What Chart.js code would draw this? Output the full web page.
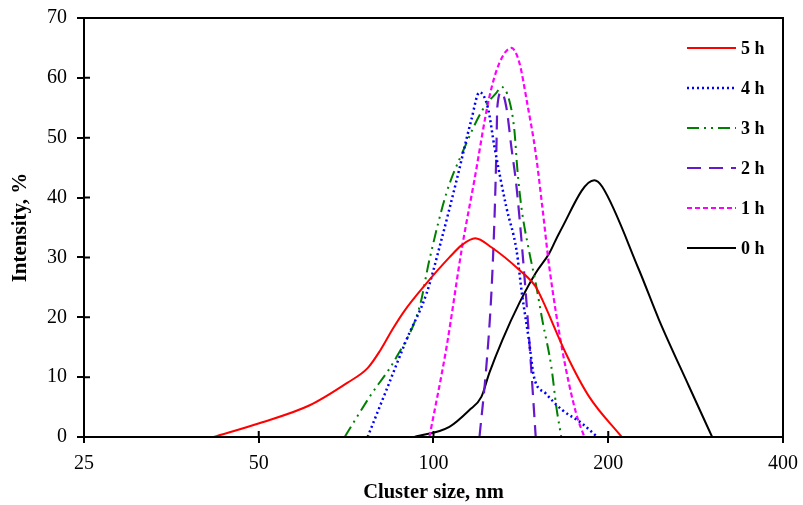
<!DOCTYPE html>
<html>
<head>
<meta charset="utf-8">
<script src="https://cdn.jsdelivr.net/npm/chart.js@4.4.1/dist/chart.umd.min.js"></script>
<style>
  body { margin: 0; background: #fff; }
  #wrap { width: 803px; height: 505px; }
</style>
</head>
<body>
<div id="wrap"><canvas id="dlsChart" width="803" height="505"></canvas></div>
<script>
// x ticks (log2 spaced) and y range
const xTicks = [25, 50, 100, 200, 400]
const yMax = 70

// values: cluster size (nm) / intensity (%)
const x5h = [41.8, 50.1, 61.2, 70.9, 77, 81, 85, 89, 97.3, 106.5, 112, 118, 125.8, 140.6, 150, 154, 169, 185.5, 211]
const y5h = [0, 2.3, 5.3, 9.0, 11.5, 14.5, 18, 21, 25.7, 30, 32.1, 33.2, 31.7, 27.9, 25.1, 22.9, 14, 6.7, 0]

const x4h = [77, 83, 89.8, 97.3, 102.4, 109.6, 116.2, 120, 124, 127.4, 133.5, 139, 142, 146, 149, 156, 166.7, 180, 191.5]
const y4h = [0, 7.9, 16.2, 24, 31.7, 42.9, 53, 57.6, 55.1, 48.4, 38.4, 31.2, 24, 16.2, 10, 7.3, 4.5, 2.3, 0]

const x3h = [70.3, 77.6, 86.4, 94.6, 98.4, 105.3, 112, 121.4, 128.3, 130.9, 135, 137.8, 139.5, 141.7, 146, 150, 154, 159.6, 162.8, 166]
const y3h = [0, 6.7, 13.4, 21.7, 29.6, 40.8, 47.4, 54.6, 57.5, 58.5, 56.3, 51.3, 44.6, 38.4, 31.2, 25.7, 19.5, 11.7, 5, 0]

const x2h = [120, 123.3, 125.8, 127.4, 128.3, 128.8, 130.9, 133.5, 136.2, 139, 144.5, 147.5, 150]
const y2h = [0, 11.7, 24, 36.8, 47.4, 55.1, 57.6, 55.1, 48.4, 41.8, 22.9, 10.7, 0]

const x1h = [98.4, 105.3, 112, 117.6, 124.8, 129.9, 136.2, 140.6, 145, 150, 154, 158.3, 166.7, 176, 181.9]
const y1h = [0, 15, 31.7, 42.9, 56.8, 62.5, 65, 62.5, 55.8, 47.4, 38.4, 28.4, 14.5, 4, 0]

const x0h = [92.7, 106.5, 115.3, 120.9, 124.8, 131.4, 140.6, 150, 158.3, 164.7, 189.3, 195.3, 226, 244.8, 275.7, 302]
const y0h = [0, 1.7, 4.5, 6.7, 10.7, 16.2, 22.4, 27.4, 30.7, 34.1, 42.9, 41.8, 27.9, 19.5, 8.4, 0]

function pts(xs, ys) {
    return xs.map(function(x, i) { return { x: x, y: ys[i] } })
}

function series(label, xs, ys, color, dash, width) {
    return {
        label: label,
        data: pts(xs, ys),
        borderColor: color,
        backgroundColor: color,
        borderDash: dash,
        borderWidth: width,
        pointRadius: 0,
        cubicInterpolationMode: "monotone",
        fill: false,
    }
}

const data = {
    datasets: [
        series("5 h", x5h, y5h, "#ff0000", [], 2),
        series("4 h", x4h, y4h, "#0000ff", [2, 3], 2.5),
        series("3 h", x3h, y3h, "#008000", [12, 5, 2, 5, 2, 5], 2),
        series("2 h", x2h, y2h, "#6619cc", [14, 8], 2.2),
        series("1 h", x1h, y1h, "#ff00ff", [5, 3], 2.2),
        series("0 h", x0h, y0h, "#000000", [], 2),
    ]
}

const serif = "'Liberation Serif', 'Times New Roman', serif"

// frame, inner tick marks and the legend box in the plot corner
const framePlugin = {
    id: "frame",
    afterDraw(chart) {
        const ctx = chart.ctx
        const a = chart.chartArea
        ctx.save()
        ctx.strokeStyle = "#000"
        ctx.lineWidth = 2
        ctx.setLineDash([])
        ctx.strokeRect(a.left, a.top, a.right - a.left, a.bottom - a.top)

        const xs = chart.scales.x
        const ys = chart.scales.y
        ctx.beginPath()
        xTicks.forEach(function(v) {
            const px = xs.getPixelForValue(v)
            ctx.moveTo(px, a.bottom)
            ctx.lineTo(px, a.bottom - 6)
        })
        for (let v = 0; v <= yMax; v += 10) {
            const py = ys.getPixelForValue(v)
            ctx.moveTo(a.left, py)
            ctx.lineTo(a.left + 6, py)
        }
        ctx.stroke()

        // legend
        ctx.font = "bold 18px " + serif
        ctx.textBaseline = "middle"
        ctx.fillStyle = "#000"
        chart.data.datasets.forEach(function(ds, i) {
            const y = a.top + 30 + i * 40
            ctx.strokeStyle = ds.borderColor
            ctx.lineWidth = ds.borderWidth
            ctx.setLineDash(ds.borderDash)
            ctx.beginPath()
            ctx.moveTo(687, y)
            ctx.lineTo(736, y)
            ctx.stroke()
            ctx.fillText(ds.label, 741, y + 1)
        })
        ctx.restore()
    }
}

const config = {
    type: "line",
    data,
    options: {
        responsive: false,
        animation: false,
        layout: { padding: { top: 18, right: 20, left: 0, bottom: 0 } },
        plugins: {
            legend: { display: false },
            tooltip: { enabled: false },
        },
        scales: {
            x: {
                type: "logarithmic",
                min: 25,
                max: 400,
                afterBuildTicks: function(scale) {
                    scale.ticks = xTicks.map(function(v) { return { value: v, major: true } })
                },
                afterFit: function(scale) {
                    scale.height = 68
                    scale.paddingLeft = 0
                    scale.paddingRight = 0
                },
                ticks: {
                    autoSkip: false,
                    maxRotation: 0,
                    color: "#000",
                    padding: 9,
                    font: { family: serif, size: 20 },
                    callback: function(v) { return String(v) }
                },
                grid: { drawOnChartArea: false, tickLength: 6, color: "#000", lineWidth: 2 },
                border: { color: "#000", width: 2 },
                title: {
                    display: true,
                    text: "Cluster size, nm",
                    color: "#000",
                    font: { family: serif, size: 20.5, weight: "bold" },
                    padding: { top: 2, bottom: 0 }
                }
            },
            y: {
                min: 0,
                max: yMax,
                afterFit: function(scale) {
                    scale.width = 84
                    scale.paddingTop = 0
                    scale.paddingBottom = 0
                },
                ticks: {
                    stepSize: 10,
                    color: "#000",
                    padding: 10,
                    font: { family: serif, size: 20 }
                },
                grid: { drawOnChartArea: false, tickLength: 7, color: "#000", lineWidth: 2 },
                border: { color: "#000", width: 2 },
                title: {
                    display: true,
                    text: "Intensity, %",
                    color: "#000",
                    font: { family: serif, size: 21, weight: "bold" },
                    padding: { top: 8, bottom: 0 }
                }
            }
        }
    },
    plugins: [framePlugin]
}

const myChart = new Chart(document.getElementById("dlsChart"), config)
</script>
</body>
</html>
